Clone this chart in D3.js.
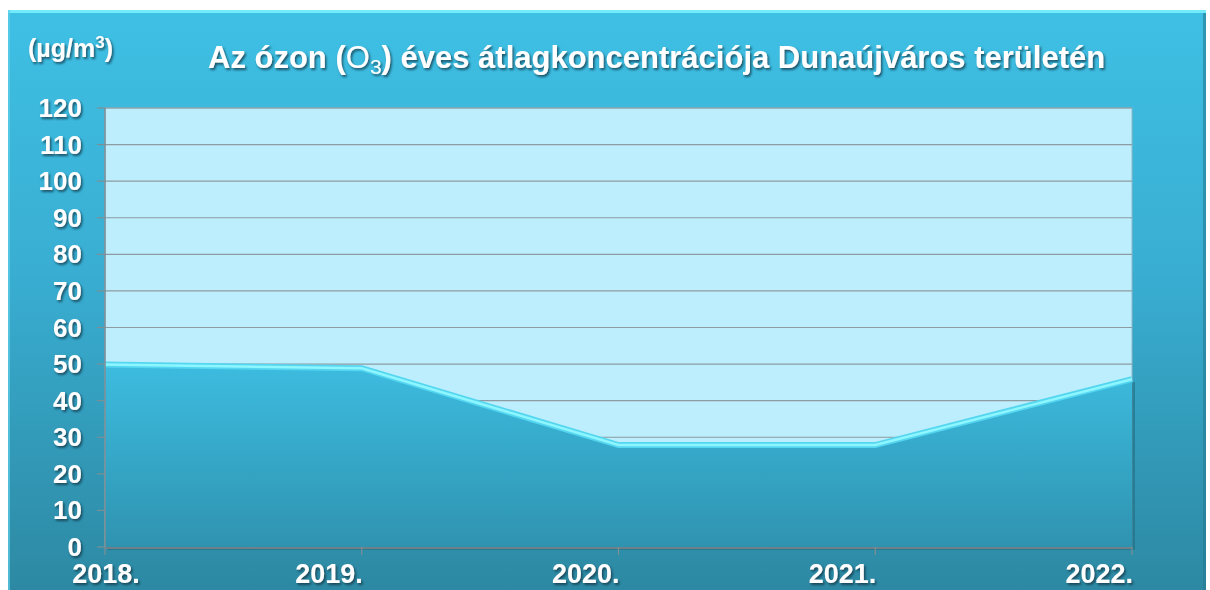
<!DOCTYPE html>
<html>
<head>
<meta charset="utf-8">
<script src="https://cdn.jsdelivr.net/npm/d3@7"></script>
<style>
  body { margin: 0; background: #fff; }
  svg { display: block; font-family: "Liberation Sans", Arial, sans-serif; }
</style>
</head>
<body>
<svg width="1210" height="590"></svg>
<script>
var years = ["2018.", "2019.", "2020.", "2021.", "2022."];
var ozone = [50, 49, 28, 28, 46];
var yTicks = [0, 10, 20, 30, 40, 50, 60, 70, 80, 90, 100, 110, 120];

var svg = d3.select("svg"),
    width = +svg.attr("width"),
    height = +svg.attr("height");

var plot = {left: 105, right: 1132, top: 108, bottom: 547};

var defs = svg.append("defs");

var panelGrad = defs.append("linearGradient").attr("id", "panelGrad")
    .attr("x1", 0).attr("y1", 0).attr("x2", 0).attr("y2", 1);
panelGrad.append("stop").attr("offset", "0%").attr("stop-color", "#3ec0e4");
panelGrad.append("stop").attr("offset", "45%").attr("stop-color", "#39aed2");
panelGrad.append("stop").attr("offset", "100%").attr("stop-color", "#2d89a3");

var areaGrad = defs.append("linearGradient").attr("id", "areaGrad")
    .attr("gradientUnits", "userSpaceOnUse")
    .attr("x1", 0).attr("y1", 360).attr("x2", 0).attr("y2", plot.bottom);
areaGrad.append("stop").attr("offset", "0%").attr("stop-color", "#3dbde1");
areaGrad.append("stop").attr("offset", "100%").attr("stop-color", "#2f93b0");

var shadow = defs.append("filter").attr("id", "shadow")
    .attr("x", "-10%").attr("y", "-30%").attr("width", "130%").attr("height", "180%");
shadow.append("feDropShadow").attr("dx", 1.5).attr("dy", 2)
    .attr("stdDeviation", 1.2).attr("flood-color", "#0a3040").attr("flood-opacity", 0.75);

// panel
svg.append("rect").attr("x", 8).attr("y", 10).attr("width", 1198).attr("height", 580)
    .attr("fill", "url(#panelGrad)");
svg.append("rect").attr("x", 8).attr("y", 10).attr("width", 1198).attr("height", 3)
    .attr("fill", "#72ecfb");
svg.append("rect").attr("x", 8).attr("y", 10).attr("width", 2).attr("height", 580)
    .attr("fill", "#5fcfe8").attr("opacity", 0.7);
svg.append("rect").attr("x", 1203).attr("y", 13).attr("width", 3).attr("height", 577)
    .attr("fill", "#257a92").attr("opacity", 0.6);

var x = d3.scalePoint().domain(years).range([plot.left, plot.right]);
var y = d3.scaleLinear().domain([0, 120]).range([plot.bottom, plot.top]);

// plot background
svg.append("rect").attr("x", plot.left).attr("y", plot.top)
    .attr("width", plot.right - plot.left).attr("height", plot.bottom - plot.top)
    .attr("fill", "#bdeefd").attr("stroke", "#8fb8c6").attr("stroke-width", 1);

// gridlines
svg.append("g").selectAll("line").data(yTicks.filter(function(d) { return d > 0; }))
  .enter().append("line")
    .attr("x1", plot.left).attr("x2", plot.right)
    .attr("y1", function(d) { return y(d); }).attr("y2", function(d) { return y(d); })
    .attr("stroke", "#8c9ca2").attr("stroke-width", 1.2);

var data = years.map(function(d, i) { return {year: d, value: ozone[i]}; });

// depth shadow of area (right/bottom)
svg.append("path").datum(data)
    .attr("d", d3.area().x(function(d) { return x(d.year) + 3; }).y0(plot.bottom + 3)
        .y1(function(d) { return y(d.value) + 3; }))
    .attr("fill", "#1f6c80").attr("opacity", 0.6);

svg.append("path").datum(data)
    .attr("d", d3.area().x(function(d) { return x(d.year); }).y0(plot.bottom)
        .y1(function(d) { return y(d.value); }))
    .attr("fill", "url(#areaGrad)");

// bevelled top edge
var topLine = d3.line().x(function(d) { return x(d.year); }).y(function(d) { return y(d.value) + 0.5; });
svg.append("path").datum(data).attr("d", topLine)
    .attr("fill", "none").attr("stroke", "#55d6f0").attr("stroke-width", 6);
svg.append("path").datum(data).attr("d", topLine)
    .attr("fill", "none").attr("stroke", "#8ef6ff").attr("stroke-width", 2.5);

// axes lines
svg.append("line").attr("x1", plot.left).attr("x2", plot.left)
    .attr("y1", plot.top).attr("y2", plot.bottom + 1)
    .attr("stroke", "#7d8f96").attr("stroke-width", 1.5);
svg.append("line").attr("x1", plot.left).attr("x2", plot.right)
    .attr("y1", plot.bottom + 1).attr("y2", plot.bottom + 1)
    .attr("stroke", "#6f8188").attr("stroke-width", 2);

// y ticks
var yAxis = svg.append("g");
yAxis.selectAll("line").data(yTicks).enter().append("line")
    .attr("x1", plot.left - 8).attr("x2", plot.left)
    .attr("y1", function(d) { return y(d); }).attr("y2", function(d) { return y(d); })
    .attr("stroke", "#7d8f96").attr("stroke-width", 1.2);
yAxis.selectAll("text").data(yTicks).enter().append("text")
    .attr("x", 82).attr("y", function(d) { return y(d) + 9; })
    .attr("text-anchor", "end")
    .attr("fill", "#fff").attr("font-weight", "bold").attr("font-size", 26)
    .attr("filter", "url(#shadow)")
    .text(function(d) { return d; });

// x ticks
var xAxis = svg.append("g");
xAxis.selectAll("line").data(years).enter().append("line")
    .attr("x1", function(d) { return x(d); }).attr("x2", function(d) { return x(d); })
    .attr("y1", plot.bottom).attr("y2", plot.bottom + 8)
    .attr("stroke", "#7d8f96").attr("stroke-width", 1.2);
xAxis.selectAll("text").data(years).enter().append("text")
    .attr("x", function(d, i) { return i === 0 ? x(d) + 1 : x(d) + 1; })
    .attr("y", 583)
    .attr("text-anchor", function(d, i) { return i === 0 ? "middle" : "end"; })
    .attr("fill", "#fff").attr("font-weight", "bold").attr("font-size", 27)
    .attr("filter", "url(#shadow)")
    .text(function(d) { return d; });

// unit
var unit = svg.append("text").attr("x", 28).attr("y", 57)
    .attr("fill", "#fff").attr("font-weight", "bold").attr("font-size", 25)
    .attr("filter", "url(#shadow)");
unit.append("tspan").text("(µg/m");
unit.append("tspan").attr("font-size", 17).attr("dy", -9).text("3");
unit.append("tspan").attr("dy", 9).text(")");

// title
var title = svg.append("text").attr("x", 208).attr("y", 68)
    .attr("fill", "#fff").attr("font-weight", "bold").attr("font-size", 31)
    .attr("filter", "url(#shadow)");
title.append("tspan").text("Az ózon (");
title.append("tspan").attr("font-weight", "normal").text("O");
title.append("tspan").attr("font-weight", "normal").attr("font-size", 21).attr("dy", 6).text("3");
title.append("tspan").attr("dy", -6).text(") éves átlagkoncentrációja Dunaújváros területén");
</script>
</body>
</html>
